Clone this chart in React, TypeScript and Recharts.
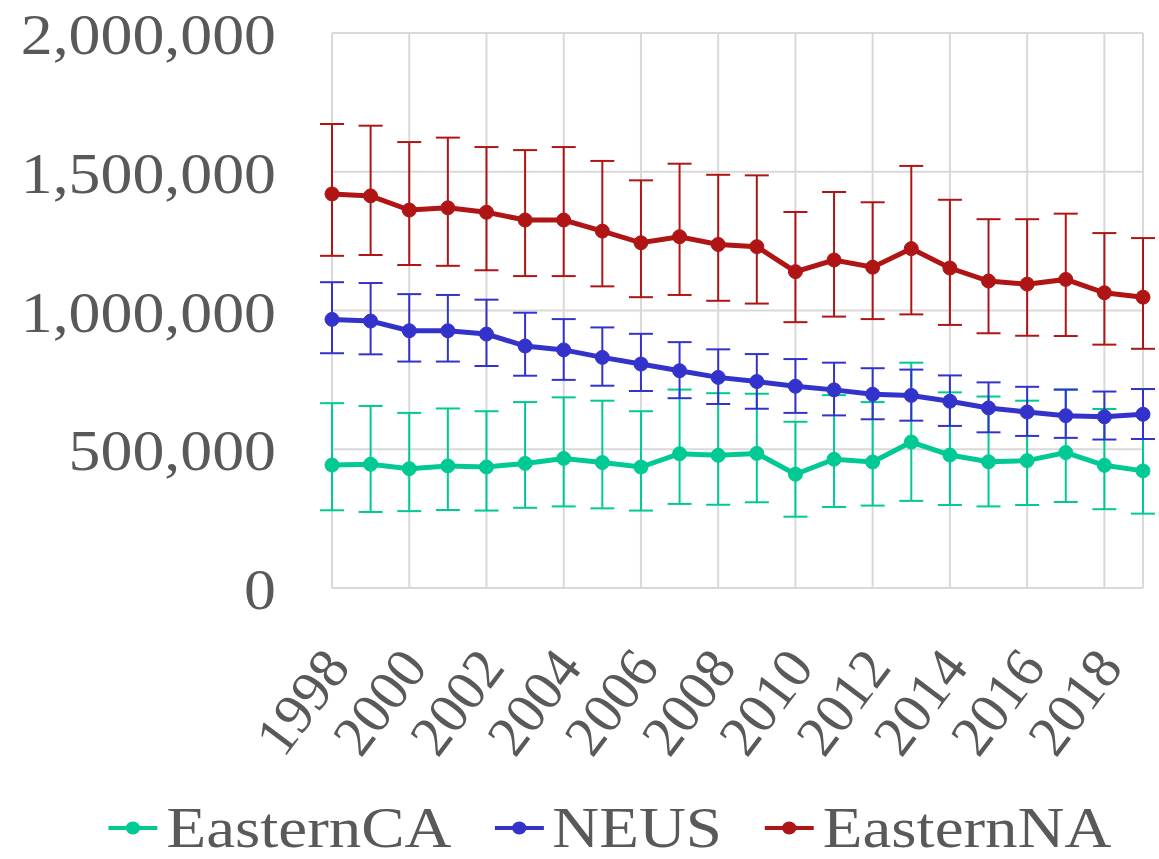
import React from "react";
import {
  LineChart,
  Line,
  XAxis,
  YAxis,
  CartesianGrid,
  ErrorBar,
  Legend,
} from "recharts";

const years = [
  1998, 1999, 2000, 2001, 2002, 2003, 2004, 2005, 2006, 2007, 2008, 2009,
  2010, 2011, 2012, 2013, 2014, 2015, 2016, 2017, 2018, 2019,
];
const yearTicks = [1998, 2000, 2002, 2004, 2006, 2008, 2010, 2012, 2014, 2016, 2018];
const valueTicks = [0, 500000, 1000000, 1500000, 2000000];

// values in thousands
const easternCA = [443, 446, 430, 440, 436, 449, 467, 452, 436, 484, 478, 485, 410, 464, 454, 526, 479, 455, 459, 488, 442, 422];
const easternCALow = [280, 274, 277, 281, 279, 289, 294, 287, 279, 303, 300, 309, 257, 292, 297, 314, 299, 294, 299, 310, 284, 268];
const easternCAHigh = [666, 656, 631, 647, 637, 670, 687, 675, 637, 715, 702, 700, 599, 695, 670, 812, 705, 690, 675, 715, 645, 717];

const neus = [968, 962, 927, 927, 915, 872, 858, 831, 807, 783, 759, 744, 727, 714, 698, 694, 673, 649, 634, 621, 617, 626];
const neusLow = [846, 842, 816, 816, 800, 765, 750, 729, 710, 684, 663, 646, 631, 622, 608, 603, 584, 561, 548, 541, 535, 537];
const neusHigh = [1102, 1099, 1059, 1056, 1039, 992, 969, 939, 916, 886, 860, 843, 825, 812, 792, 787, 766, 741, 725, 715, 708, 717];

const easternNA = [1420, 1413, 1362, 1370, 1354, 1326, 1326, 1286, 1244, 1266, 1238, 1230, 1140, 1182, 1156, 1223, 1153, 1106, 1095, 1112, 1064, 1048];
const easternNALow = [1197, 1200, 1164, 1161, 1145, 1124, 1124, 1087, 1048, 1056, 1035, 1025, 958, 978, 969, 986, 948, 918, 909, 908, 877, 862];
const easternNAHigh = [1672, 1666, 1607, 1623, 1589, 1578, 1589, 1539, 1469, 1529, 1489, 1487, 1355, 1427, 1390, 1521, 1399, 1329, 1329, 1349, 1279, 1261];

const series = [
  { key: "EasternCA", color: "#00c994" },
  { key: "NEUS", color: "#3333cc" },
  { key: "EasternNA", color: "#b01515" },
];

const K = 1000;
const data = years.map((year, i) => ({
  year,
  EasternCA: easternCA[i] * K,
  EasternCAErr: [(easternCA[i] - easternCALow[i]) * K, (easternCAHigh[i] - easternCA[i]) * K],
  NEUS: neus[i] * K,
  NEUSErr: [(neus[i] - neusLow[i]) * K, (neusHigh[i] - neus[i]) * K],
  EasternNA: easternNA[i] * K,
  EasternNAErr: [(easternNA[i] - easternNALow[i]) * K, (easternNAHigh[i] - easternNA[i]) * K],
}));

const FONT = '"Liberation Serif", "Times New Roman", serif';
const TEXT = "#595959";

function YTick(props: any) {
  const { x, y, payload } = props;
  return (
    <g transform={`translate(${x},${y})`}>
      <text
        transform="scale(1.12,1)"
        x={-50}
        dy={21}
        textAnchor="end"
        fontFamily={FONT}
        fontSize={57}
        fill={TEXT}
      >
        {payload.value.toLocaleString("en-US")}
      </text>
    </g>
  );
}

function XTick(props: any) {
  const { x, y, payload } = props;
  return (
    <g transform={`translate(${x + 20},${y + 80})`}>
      <text
        transform="rotate(-53)"
        textAnchor="end"
        fontFamily={FONT}
        fontSize={57}
        fill={TEXT}
      >
        {payload.value}
      </text>
    </g>
  );
}

function LegendRow() {
  return (
    <div
      style={{
        height: 56,
        display: "flex",
        justifyContent: "center",
        alignItems: "center",
        paddingLeft: 76,
        fontFamily: FONT,
        fontSize: 58,
        color: TEXT,
        lineHeight: 1,
        whiteSpace: "nowrap",
      }}
    >
      <div style={{ display: "flex", alignItems: "center", transform: "scaleX(1.12)" }}>
        {series.map((s, i) => (
          <div
            key={s.key}
            style={{ display: "flex", alignItems: "center", marginLeft: i === 0 ? 0 : 38 }}
          >
            <svg width={44} height={20} style={{ marginRight: 8 }}>
              <line x1={0} y1={10} x2={44} y2={10} stroke={s.color} strokeWidth={4} />
              <circle cx={22} cy={10} r={6.5} fill={s.color} />
            </svg>
            <span>{s.key}</span>
          </div>
        ))}
      </div>
    </div>
  );
}

export default function App() {
  return (
    <div style={{ position: "absolute", left: 0, top: 0, background: "#fff" }}>
      <LineChart
        width={1159}
        height={859}
        data={data}
        margin={{ top: 33, right: 16, left: 0, bottom: 3 }}
      >
        <CartesianGrid stroke="#d9d9d9" strokeWidth={2} />
        <XAxis
          dataKey="year"
          type="number"
          domain={[1998, 2019]}
          ticks={yearTicks}
          tick={<XTick />}
          tickLine={false}
          tickSize={0}
          tickMargin={0}
          axisLine={{ stroke: "#d9d9d9", strokeWidth: 2 }}
          height={212}
          interval={0}
        />
        <YAxis
          type="number"
          domain={[0, 2000000]}
          ticks={valueTicks}
          tick={<YTick />}
          tickLine={false}
          tickSize={0}
          tickMargin={0}
          axisLine={false}
          width={332}
          interval={0}
        />
        <Legend verticalAlign="bottom" height={56} content={<LegendRow />} />
        {series.map((s) => (
          <Line
            key={s.key}
            dataKey={s.key}
            stroke={s.color}
            strokeWidth={5}
            dot={{ r: 7, fill: s.color, stroke: s.color, strokeWidth: 1 }}
            activeDot={false}
            isAnimationActive={false}
          >
            <ErrorBar
              dataKey={`${s.key}Err`}
              direction="y"
              width={12}
              stroke={s.color}
              strokeWidth={2}
              isAnimationActive={false}
            />
          </Line>
        ))}
      </LineChart>
    </div>
  );
}
